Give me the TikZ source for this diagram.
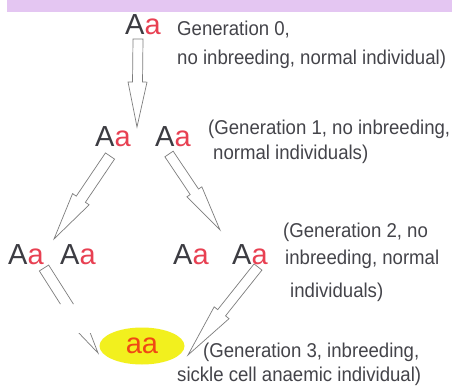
\documentclass[tikz,border=0pt]{standalone}
\usepackage{fontspec}
\setmainfont{Liberation Sans}[FakeStretch=0.93]
\newfontfamily\aafont{Liberation Sans}
\usetikzlibrary{calc,shapes.geometric}
\definecolor{darkA}{RGB}{60,60,66}
\definecolor{reda}{RGB}{232,64,82}
\definecolor{orangeaa}{RGB}{240,72,20}
\definecolor{labelc}{RGB}{68,68,74}
\definecolor{arrowc}{RGB}{125,125,125}
\definecolor{bandc}{RGB}{228,198,242}
\definecolor{hiyellow}{RGB}{242,240,30}
\tikzset{
  geno/.style={anchor=base west, inner sep=0pt, font=\aafont\fontsize{29}{30}\selectfont},
  lab/.style={anchor=base west, inner sep=0pt, text=labelc, font=\fontsize{20}{24}\selectfont},
  arrowline/.style={draw=arrowc, line width=0.7pt, line join=miter, fill=white},
}
\newcommand\hollowarrow[5]{%
  \path ($(#2)!#5!(#1)$) coordinate (neck);
  \draw[arrowline] ($(#1)!#3!90:(#2)$) -- ($(neck)!#3!90:(#2)$) -- ($(neck)!#4!90:(#2)$) -- (#2)
    -- ($(neck)!#4!-90:(#2)$) -- ($(neck)!#3!-90:(#2)$) -- ($(#1)!#3!-90:(#2)$) -- cycle;}
\newcommand\Aa{\textcolor{darkA}{A}\textcolor{reda}{a}}
\begin{document}
\begin{tikzpicture}[x=1pt,y=-1pt]
\useasboundingbox (0,0) rectangle (452,387);
\fill[white] (0,0) rectangle (452,387);
\fill[bandc] (7,0) rectangle (452,12);

% arrow end points
\coordinate (a0s) at (138,39);  \coordinate (a0e) at (137,127);
\coordinate (a1ls) at (110,156); \coordinate (a1le) at (54,239);
\coordinate (a1rs) at (169,154); \coordinate (a1re) at (220,230);
\coordinate (a2ls) at (44,268); \coordinate (a2le) at (98,353);
\coordinate (a2rs) at (258,267); \coordinate (a2re) at (188,355);

\hollowarrow{a0s}{a0e}{5pt}{9.5pt}{45pt}
\hollowarrow{a1ls}{a1le}{5.5pt}{10pt}{48pt}
\hollowarrow{a1rs}{a1re}{5pt}{9pt}{46pt}
\begin{scope}
  \clip (0,0) rectangle (452,304) (0,333) rectangle (100,387);
  \hollowarrow{a2ls}{a2le}{5.5pt}{10pt}{50pt}
\end{scope}
\hollowarrow{a2rs}{a2re}{5pt}{9.5pt}{54pt}

% genotypes
\node[geno] (g0) at (125,35) {\Aa};
\node[geno] (g1a) at (95,147) {\Aa};
\node[geno] (g1b) at (155,147) {\Aa};
\node[geno] (g2a) at (8,264) {\Aa};
\node[geno] (g2b) at (60,264) {\Aa};
\node[geno] (g2c) at (173,264) {\Aa};
\node[geno] (g2d) at (232,264) {\Aa};
\node[ellipse, fill=hiyellow, minimum width=85pt, minimum height=37pt, inner sep=0pt,
      text=orangeaa, font=\aafont\fontsize{29}{30}\selectfont] (g3) at (142,346) {aa};

% labels
\node[lab] (l0a) at (177,36) {Generation 0,};
\node[lab] (l0b) at (177,65) {no inbreeding, normal individual)};
\node[lab] (l1a) at (208,135) {(Generation 1, no inbreeding,};
\node[lab] (l1b) at (213,160) {normal individuals)};
\node[lab] (l2a) at (283,238) {(Generation 2, no};
\node[lab] (l2b) at (285,265) {inbreeding, normal};
\node[lab] (l2c) at (290,297) {individuals)};
\node[lab] (l3a) at (203,357) {(Generation 3, inbreeding,};
\node[lab] (l3b) at (177,381) {sickle cell anaemic individual)};
\end{tikzpicture}
\end{document}
